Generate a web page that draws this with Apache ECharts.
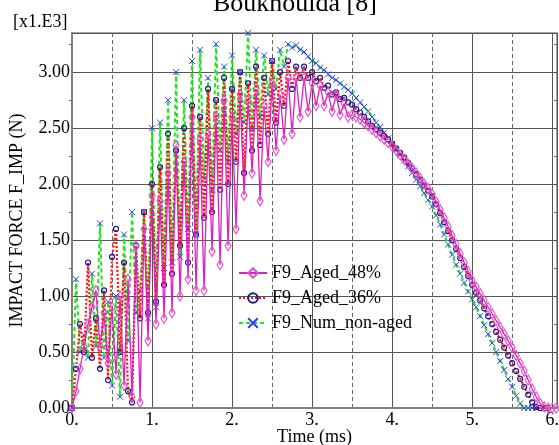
<!DOCTYPE html>
<html>
<head>
<meta charset="utf-8">
<script src="https://cdn.jsdelivr.net/npm/echarts@6/dist/echarts.min.js"></script>
<style>
html, body { margin: 0; padding: 0; background: #fff; }
#main { width: 559px; height: 445px; }
</style>
</head>
<body>
<div id="main"></div>
<script>
// time in ms, force in kN (axis shows x1.E3 N)
var times = [
  0.00, 0.05, 0.10, 0.15, 0.20, 0.25, 0.30, 0.35, 0.40, 0.45,
  0.50, 0.55, 0.60, 0.65, 0.70, 0.75, 0.80, 0.85, 0.90, 0.95,
  1.00, 1.05, 1.10, 1.15, 1.20, 1.25, 1.30, 1.35, 1.40, 1.45,
  1.50, 1.55, 1.60, 1.65, 1.70, 1.75, 1.80, 1.85, 1.90, 1.95,
  2.00, 2.05, 2.10, 2.15, 2.20, 2.25, 2.30, 2.35, 2.40, 2.45,
  2.50, 2.55, 2.60, 2.65, 2.70, 2.75, 2.80, 2.85, 2.90, 2.95,
  3.00, 3.05, 3.10, 3.15, 3.20, 3.25, 3.30, 3.35, 3.40, 3.45,
  3.50, 3.55, 3.60, 3.65, 3.70, 3.75, 3.80, 3.85, 3.90, 3.95,
  4.00, 4.05, 4.10, 4.15, 4.20, 4.25, 4.30, 4.35, 4.40, 4.45,
  4.50, 4.55, 4.60, 4.65, 4.70, 4.75, 4.80, 4.85, 4.90, 4.95,
  5.00, 5.05, 5.10, 5.15, 5.20, 5.25, 5.30, 5.35, 5.40, 5.45,
  5.50, 5.55, 5.60, 5.65, 5.70, 5.75, 5.80, 5.85, 5.90, 5.95,
  6.00, 6.05
];

var aged48 = [
  0, 0.15, 0.35, 0.55, 0.75, 0.9, 1.05, 0.55, 0.85, 0.4,
  0.9, 0.3, 1.0, 0.2, 1.15, 0.1, 1.45, 0.05, 1.6, 0.6,
  1.9, 0.75, 1.85, 0.8, 2.1, 0.85, 2.35, 1.0, 2.2, 1.15,
  2.6, 1.05, 2.4, 1.05, 2.45, 1.4, 2.6, 1.28, 2.75, 1.45,
  2.6, 1.6, 2.8, 1.9, 2.75, 2.1, 2.85, 1.85, 2.7, 2.2,
  2.9, 2.3, 2.8, 2.4, 2.95, 2.45, 2.95, 2.6, 2.95, 2.65,
  2.9, 2.7, 2.88, 2.7, 2.82, 2.65, 2.8, 2.62, 2.72, 2.6,
  2.62, 2.6, 2.58, 2.55, 2.52, 2.49, 2.46, 2.43, 2.40, 2.37,
  2.34, 2.30, 2.26, 2.22, 2.18, 2.14, 2.10, 2.05, 2.0, 1.96,
  1.91, 1.84, 1.77, 1.70, 1.62, 1.54, 1.46, 1.38, 1.30, 1.22,
  1.14, 1.08, 1.02, 0.96, 0.90, 0.84, 0.78, 0.72, 0.66, 0.60,
  0.54, 0.47, 0.40, 0.33, 0.25, 0.17, 0.10, 0.04, 0.01, 0,
  0, 0
];

var aged36 = [
  0, 0.35, 0.75, 0.5, 1.3, 0.45, 0.8, 0.35, 1.05, 0.25,
  1.35, 1.6, 0.5, 1.3, 0.15, 0.05, 1.45, 0.8, 1.75, 0.85,
  2.0, 0.95, 2.15, 1.1, 2.45, 1.2, 2.3, 1.45, 2.5, 1.3,
  2.7, 1.55, 2.6, 1.7, 2.85, 1.75, 2.75, 1.95, 2.95, 2.0,
  2.85, 2.2, 3.0, 2.1, 2.9, 2.3, 3.05, 2.35, 2.95, 2.45,
  3.1, 2.55, 3.0, 2.7, 3.1, 2.85, 3.05, 2.95, 3.05, 2.95,
  3.0, 2.92, 2.95, 2.86, 2.88, 2.8, 2.82, 2.76, 2.77, 2.73,
  2.71, 2.67, 2.64, 2.60, 2.56, 2.52, 2.49, 2.46, 2.43, 2.40,
  2.36, 2.32, 2.28, 2.24, 2.19, 2.14, 2.09, 2.04, 1.99, 1.94,
  1.89, 1.82, 1.74, 1.66, 1.58, 1.50, 1.42, 1.34, 1.26, 1.18,
  1.10, 1.03, 0.96, 0.89, 0.82, 0.75, 0.68, 0.61, 0.54, 0.47,
  0.40, 0.33, 0.26, 0.19, 0.12, 0.05, 0.01, 0, 0, 0,
  null, null
];

var nonAged = [
  0, 1.15, 0.5, 0.65, 0.45, 1.2, 0.55, 1.65, 0.45, 0.95,
  0.2, 1.0, 0.1, 1.55, 0.6, 1.75, 0.85, 1.05, 1.75, 0.8,
  2.5, 0.9, 2.55, 1.25, 2.75, 1.3, 3.0, 1.35, 2.75, 1.6,
  3.1, 1.55, 3.2, 2.05, 2.95, 1.95, 3.25, 2.3, 3.05, 2.2,
  3.15, 2.45, 3.0, 2.55, 3.35, 2.5, 3.2, 2.6, 3.15, 2.8,
  3.1, 2.85, 3.2, 3.05, 3.25, 3.22, 3.24, 3.2, 3.18, 3.14,
  3.1, 3.08, 3.04, 3.02, 2.98, 2.95, 2.93, 2.9, 2.87, 2.84,
  2.81, 2.77, 2.73, 2.69, 2.65, 2.60, 2.55, 2.51, 2.46, 2.41,
  2.36, 2.31, 2.26, 2.21, 2.16, 2.10, 2.04, 1.98, 1.92, 1.86,
  1.80, 1.72, 1.64, 1.55, 1.46, 1.37, 1.28, 1.20, 1.12, 1.04,
  0.97, 0.90, 0.82, 0.74, 0.66, 0.58, 0.50, 0.42, 0.34, 0.26,
  0.19, 0.11, 0.04, 0, 0, 0, 0, null, null, null,
  null, null
];

var seriesNames = ['F9_Aged_48%', 'F9_Aged_36%', 'F9_Num_non-aged'];

function pairs(ys) {
  var out = [];
  for (var i = 0; i < times.length; i++) {
    out.push([times[i], ys[i]]);
  }
  return out;
}

var serif = 'Liberation Serif';
var crossPath = 'path://M0,0L10,10M10,0L0,10';

var myChart = echarts.init(document.getElementById('main'));

var option = {
  animation: false,
  backgroundColor: '#fff',
  textStyle: { fontFamily: serif },
  grid: {
    left: 72, right: 2, top: 33, bottom: 37,
    containLabel: false, outerBoundsMode: 'none',
    show: true, borderColor: '#8a8a8a', borderWidth: 1.5
  },
  graphic: [
    { type: 'text', left: 213, top: -9, style: { text: 'Bouknouida [8]', font: '26px "Liberation Serif"', fill: '#000' } },
    { type: 'text', left: 13, top: 13, style: { text: '[x1.E3]', font: '18px "Liberation Serif"', fill: '#000' } }
  ],
  legend: {
    orient: 'vertical',
    left: 233,
    top: 259,
    itemWidth: 28,
    itemHeight: 12,
    itemGap: 7,
    data: seriesNames,
    textStyle: { fontFamily: serif, fontSize: 18, color: '#000' }
  },
  xAxis: {
    type: 'value',
    min: 0,
    max: 6.06,
    interval: 1,
    name: 'Time (ms)',
    nameLocation: 'middle',
    nameGap: 20,
    nameMoveOverlap: false,
    nameTextStyle: { fontFamily: serif, fontSize: 18, color: '#000' },
    axisLine: { show: true, lineStyle: { color: '#808080', width: 2 } },
    axisTick: { show: false },
    axisLabel: {
      fontFamily: serif, fontSize: 18, color: '#000', margin: 3,
      showMaxLabel: false,
      formatter: function (v) { return Math.abs(v - Math.round(v)) < 1e-6 ? Math.round(v) + '.' : ''; }
    },
    splitLine: { show: true, lineStyle: { color: '#555', width: 1 } },
    minorTick: { show: false, splitNumber: 2 },
    minorSplitLine: { show: true, lineStyle: { color: '#666', width: 1, type: [4, 3] } }
  },
  yAxis: [{
    type: 'value',
    min: 0,
    max: 3.35,
    interval: 0.5,
    name: 'IMPACT FORCE F_IMP (N)',
    nameLocation: 'middle',
    nameGap: 46,
    nameMoveOverlap: false,
    nameTextStyle: { fontFamily: serif, fontSize: 18, color: '#000' },
    axisLine: { show: true, lineStyle: { color: '#808080', width: 2 } },
    axisTick: { show: false },
    minorTick: { show: true, splitNumber: 2, length: 3, lineStyle: { color: '#666' } },
    axisLabel: {
      fontFamily: serif, fontSize: 18, color: '#000', margin: 2,
      showMaxLabel: false,
      formatter: function (v) { return v.toFixed(2); }
    },
    splitLine: { show: true, lineStyle: { color: '#555', width: 1 } }
  }, {
    type: 'value',
    position: 'right',
    min: 0,
    max: 3.35,
    interval: 0.5,
    axisLine: { show: false },
    axisTick: { show: false },
    axisLabel: { show: false },
    splitLine: { show: false },
    minorTick: { show: true, splitNumber: 2, length: -3, lineStyle: { color: '#666' } }
  }],
  series: [
    {
      name: 'F9_Num_non-aged',
      type: 'line',
      data: pairs(nonAged),
      symbol: crossPath,
      symbolSize: 6,
      itemStyle: { color: 'rgba(0,0,0,0)', borderColor: '#2a3cff', borderWidth: 1 },
      lineStyle: { color: '#22e022', width: 2, type: [4, 3] },
      z: 2
    },
    {
      name: 'F9_Aged_36%',
      type: 'line',
      data: pairs(aged36),
      symbol: 'circle',
      symbolSize: 5,
      itemStyle: { color: 'rgba(255,255,255,0)', borderColor: '#1c1c8c', borderWidth: 1.2 },
      lineStyle: { color: '#ff1010', width: 2.2, type: [2, 2] },
      z: 3
    },
    {
      name: 'F9_Aged_48%',
      type: 'line',
      data: pairs(aged48),
      symbol: 'diamond',
      symbolSize: [6, 10],
      itemStyle: { color: 'rgba(255,255,255,0)', borderColor: '#e254c8', borderWidth: 1.2 },
      lineStyle: { color: '#dd1fbf', width: 1.3 },
      z: 4
    }
  ]
};

myChart.setOption(option);
</script>
</body>
</html>
